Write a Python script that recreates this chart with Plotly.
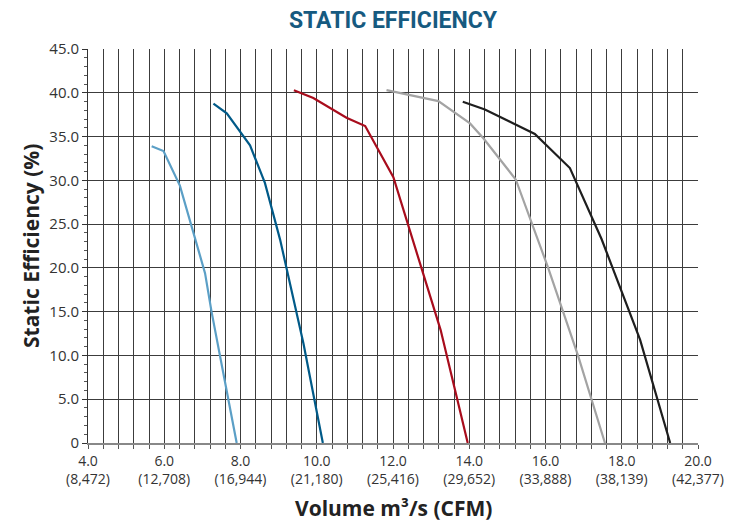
import plotly.graph_objects as go

# Data (volume m3/s, static efficiency %)
fan1_x = [5.67, 5.98, 6.41, 7.07, 7.24, 7.90]
fan1_y = [33.9, 33.35, 29.4, 19.4, 15.0, 0.0]
fan2_x = [7.29, 7.64, 8.25, 8.64, 9.04, 9.65, 10.16]
fan2_y = [38.75, 37.65, 34.0, 29.7, 23.2, 11.4, 0.0]
fan3_x = [9.40, 9.91, 10.78, 11.27, 12.01, 12.40, 13.25, 13.96]
fan3_y = [40.3, 39.4, 37.15, 36.2, 30.35, 24.9, 12.9, 0.0]
fan4_x = [11.83, 12.45, 13.19, 14.02, 14.37, 15.22, 16.07, 16.86, 17.56]
fan4_y = [40.3, 39.7, 39.05, 36.5, 34.8, 30.1, 20.0, 9.9, 0.0]
fan5_x = [13.83, 14.41, 15.16, 15.72, 16.64, 17.47, 18.48, 19.27]
fan5_y = [38.97, 38.1, 36.5, 35.3, 31.4, 23.3, 11.8, 0.0]

x_tickvals = [4.0, 6.0, 8.0, 10.0, 12.0, 14.0, 16.0, 18.0, 20.0]
x_ticktext = ["4.0<br>(8,472)", "6.0<br>(12,708)", "8.0<br>(16,944)", "10.0<br>(21,180)",
              "12.0<br>(25,416)", "14.0<br>(29,652)", "16.0<br>(33,888)", "18.0<br>(38,139)",
              "20.0<br>(42,377)"]
y_tickvals = [0, 5, 10, 15, 20, 25, 30, 35, 40, 45]
y_ticktext = ["0", "5.0", "10.0", "15.0", "20.0", "25.0", "30.0", "35.0", "40.0", "45.0"]

series = [
    (fan1_x, fan1_y, "#5b9fc6"),
    (fan2_x, fan2_y, "#005a88"),
    (fan3_x, fan3_y, "#a80c1c"),
    (fan4_x, fan4_y, "#a3a3a3"),
    (fan5_x, fan5_y, "#1e1e1e"),
]

fig = go.Figure()
for xs, ys, c in series:
    fig.add_trace(go.Scatter(x=xs, y=ys, mode="lines",
                             line=dict(color=c, width=2.2), showlegend=False,
                             hoverinfo="skip"))

font_family = "Open Sans, Roboto, sans-serif"
grid_col = "#3c3c3c"

W, H = 739, 521

fig.update_layout(
    width=W, height=H,
    margin=dict(l=88, r=41, t=49, b=78, autoexpand=False),
    paper_bgcolor="white", plot_bgcolor="white",
    font=dict(family=font_family, size=13, color="#333333"),
    title=dict(text="<b>STATIC EFFICIENCY</b>", x=0.5, xref="paper", xanchor="center",
               y=1 - 20 / H, yref="container", yanchor="middle",
               font=dict(family="Roboto, sans-serif", size=23, color="#165a80")),
    annotations=[
        dict(text="<b>Volume m³/s (CFM)</b>", xref="paper", yref="paper", x=0.5, y=0,
             xanchor="center", yanchor="middle", yshift=-65, showarrow=False,
             font=dict(size=21, color="#222222")),
        dict(text="<b>Static Efficiency (%)</b>", xref="paper", yref="paper", x=0, y=0.5,
             xanchor="center", yanchor="middle", xshift=-57, textangle=-90, showarrow=False,
             font=dict(size=21, color="#222222")),
    ],
)

fig.update_xaxes(
    range=[4, 20], tickmode="array", tickvals=x_tickvals, ticktext=x_ticktext,
    showgrid=True, gridcolor=grid_col, gridwidth=1,
    ticks="outside", ticklen=4, tickcolor="#555555",
    showline=True, linecolor="#888888", linewidth=2, mirror=False,
    zeroline=False, automargin=False,
    tickfont=dict(size=14, color="#333333"),
    minor=dict(dtick=0.4, tick0=4, showgrid=True, gridcolor=grid_col, gridwidth=1,
               ticks="outside", ticklen=4, tickcolor="#555555"),
)
fig.update_yaxes(
    range=[0, 45], tickmode="array", tickvals=y_tickvals, ticktext=y_ticktext,
    showgrid=True, gridcolor=grid_col, gridwidth=1,
    ticks="outside", ticklen=5, tickcolor="#333333",
    showline=True, linecolor="#333333", linewidth=1,
    zeroline=False, automargin=False,
    tickfont=dict(size=15, color="#333333"),
    minor=dict(dtick=1, tick0=0, showgrid=False, ticks="outside", ticklen=3, tickcolor="#555555"),
)

fig.write_html("out.html", config={"displayModeBar": False},
               post_script="document.body.style.margin='0';document.body.style.overflow='hidden';")
